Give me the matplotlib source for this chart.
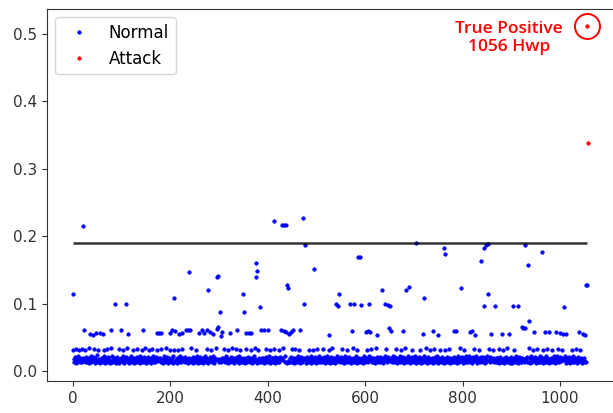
import matplotlib
matplotlib.use("Agg")
import matplotlib.pyplot as plt
import numpy as np

# reconstruction error per Hwp index, dense low band (thousandths)
band_milli = [
    15, 32, 18, 13, 21, 16, 33, 12, 19, 14, 17, 22, 31, 15, 13, 20, 16, 18, 33, 14, 12, 19, 23, 15, 17, 32, 13, 21, 16, 18,
    14, 20, 17, 12, 34, 19, 15, 22, 13, 18, 16, 21, 14, 33, 17, 12, 20, 15, 19, 24, 13, 16, 32, 18, 14, 21, 12, 17, 15, 20,
    19, 13, 16, 31, 22, 15, 18, 12, 20, 14, 33, 17, 13, 21, 16, 19, 12, 15, 34, 18, 14, 22, 16, 13, 20, 17, 32, 15, 12, 19,
    16, 21, 14, 18, 12, 33, 17, 15, 20, 13, 19, 16, 22, 14, 31, 18, 12, 17, 15, 21, 13, 34, 16, 19, 14, 20, 12, 18, 15, 17,
    22, 15, 13, 32, 19, 16, 12, 20, 17, 14, 18, 21, 33, 15, 13, 19, 16, 22, 12, 17, 14, 31, 20, 15, 18, 13, 16, 21, 34, 14,
    17, 12, 19, 15, 21, 13, 18, 32, 16, 14, 20, 12, 17, 33, 15, 22, 13, 19, 16, 14, 18, 21, 12, 31, 17, 15, 20, 13, 19, 16,
    13, 33, 20, 16, 14, 18, 12, 22, 15, 19, 17, 34, 13, 21, 16, 12, 18, 15, 20, 14, 32, 17, 13, 19, 16, 22, 12, 18, 31, 15,
    20, 14, 17, 12, 19, 16, 31, 15, 21, 13, 18, 22, 14, 17, 33, 12, 20, 15, 19, 16, 13, 21, 17, 32, 14, 18, 12, 16, 20, 15,
    16, 19, 13, 34, 18, 15, 21, 12, 17, 14, 20, 16, 32, 13, 19, 22, 15, 12, 18, 17, 33, 14, 21, 16, 13, 19, 15, 20, 12, 18,
    14, 22, 16, 19, 13, 17, 33, 12, 20, 15, 18, 14, 21, 16, 31, 19, 13, 17, 22, 15, 12, 20, 16, 34, 18, 14, 19, 13, 17, 21,
    18, 13, 32, 16, 21, 14, 19, 12, 17, 20, 15, 33, 13, 18, 16, 22, 14, 19, 12, 31, 17, 15, 20, 13, 18, 21, 16, 34, 14, 19,
    12, 17, 20, 15, 33, 18, 14, 21, 16, 13, 19, 22, 12, 17, 32, 15, 20, 14, 18, 16, 13, 21, 19, 15, 12, 33, 17, 20, 14, 16,
    21, 15, 18, 13, 19, 31, 16, 12, 20, 17, 14, 22, 16, 34, 18, 13, 19, 15, 21, 12, 17, 32, 14, 20, 16, 18, 13, 22, 15, 19,
    15, 20, 12, 18, 16, 14, 33, 21, 17, 13, 19, 15, 22, 16, 12, 31, 18, 14, 20, 17, 13, 19, 16, 33, 21, 15, 12, 18, 14, 20,
    19, 14, 17, 32, 13, 21, 16, 18, 12, 20, 15, 34, 17, 14, 19, 13, 22, 16, 18, 12, 31, 20, 15, 17, 14, 19, 13, 21, 16, 33,
    13, 18, 21, 15, 19, 12, 17, 33, 14, 20, 16, 13, 22, 18, 15, 32, 19, 12, 17, 21, 14, 16, 20, 13, 34, 18, 15, 19, 12, 17,
    17, 21, 14, 19, 13, 32, 18, 15, 22, 12, 20, 16, 14, 31, 17, 19, 13, 21, 15, 18, 12, 33, 16, 20, 14, 17, 22, 13, 19, 15,
    20, 16, 13, 18, 33, 15, 21, 12, 17, 19, 14, 22, 16, 13, 20, 32, 18, 15, 12, 21, 17, 14, 19, 34, 16, 13, 20, 18, 15, 12,
    14, 19, 22, 16, 12, 18, 31, 15, 20, 13, 17, 21, 14, 33, 19, 16, 12, 18, 22, 15, 13, 20, 17, 32, 14, 19, 16, 21, 12, 18,
    18, 12, 16, 21, 15, 34, 19, 13, 17, 20, 14, 16, 22, 12, 31, 18, 15, 19, 13, 21, 17, 33, 14, 20, 16, 12, 18, 15, 22, 13,
    16, 20, 14, 17, 32, 13, 19, 22, 15, 18, 12, 21, 16, 33, 14, 19, 17, 13, 20, 15, 18, 12, 34, 16, 21, 14, 19, 13, 17, 20,
    21, 13, 18, 15, 19, 31, 16, 12, 20, 17, 14, 22, 18, 33, 15, 13, 19, 16, 21, 12, 17, 15, 32, 20, 14, 18, 13, 22, 16, 19,
    13, 17, 21, 14, 33, 18, 12, 19, 16, 20, 15, 22, 13, 17, 32, 19, 14, 21, 16, 12, 18, 34, 15, 20, 13, 17, 19, 14, 22, 16,
    19, 15, 12, 20, 17, 13, 31, 21, 16, 18, 14, 19, 22, 15, 12, 33, 17, 20, 13, 18, 16, 21, 14, 32, 19, 12, 17, 15, 20, 13,
    17, 22, 15, 18, 13, 34, 20, 16, 12, 19, 21, 14, 17, 32, 15, 18, 13, 20, 16, 12, 19, 33, 14, 21, 17, 15, 18, 13, 22, 16,
    12, 18, 20, 15, 32, 17, 13, 21, 19, 14, 16, 22, 12, 31, 18, 15, 20, 13, 17, 21, 14, 19, 16, 33, 12, 20, 18, 15, 13, 17,
    20, 14, 17, 21, 13, 19, 33, 16, 12, 18, 22, 15, 19, 14, 34, 17, 13, 20, 16, 21, 12, 18, 32, 15, 19, 14, 17, 22, 13, 16,
    15, 19, 13, 18, 22, 16, 31, 14, 20, 12, 17, 21, 15, 33, 19, 13, 16, 18, 22, 14, 12, 20, 17, 32, 15, 19, 13, 21, 16, 18,
    18, 13, 21, 16, 14, 32, 19, 12, 17, 20, 15, 22, 13, 18, 33, 16, 14, 21, 19, 12, 17, 15, 20, 31, 13, 18, 22, 16, 14, 19,
    14, 20, 16, 19, 12, 33, 15, 21, 17, 13, 18, 22, 14, 16, 32, 20, 12, 19, 15, 17, 21, 13, 34, 18, 16, 14, 20, 12, 19, 15,
    21, 16, 12, 18, 15, 31, 20, 14, 17, 22, 13, 19, 16, 33, 12, 18, 21, 15, 17, 14, 20, 13, 32, 19, 16, 22, 14, 18, 12, 17,
    16, 19, 14, 21, 13, 17, 34, 15, 20, 12, 18, 22, 16, 14, 31, 19, 13, 17, 21, 15, 12, 20, 18, 33, 14, 16, 19, 13, 22, 17,
    13, 21, 18, 15, 19, 32, 12, 17, 20, 14, 16, 22, 13, 19, 33, 15, 18, 12, 21, 17, 14, 20, 16, 31, 13, 19, 15, 22, 18, 12,
    19, 15, 17, 22, 14, 33, 20, 13, 16, 18, 12, 21, 15, 19, 32, 17, 14, 20, 13, 16, 22, 18, 12, 34, 15, 19, 17, 13, 21, 14,
    17, 12, 20, 16, 19, 31, 14, 22, 13, 18, 15, 20, 17, 33, 12, 16, 19, 14, 21, 18, 13, 17, 32, 15, 20, 12, 18, 16, 14, 19,
    15, 18, 13, 17, 14, 16, 19,
]

# points that stand out of the band (index, value)
spike_x = [0, 20, 86, 110, 207, 239, 278, 295, 297, 302, 349, 351, 375, 376, 378, 385,
           412, 430, 434, 437, 440, 441, 473, 474, 476, 496, 541, 544, 546, 568, 578,
           585, 589, 591, 608, 635, 640, 647, 652, 684, 691, 705, 720, 761, 765, 796,
           838, 844, 845, 849, 852, 853, 866, 903, 913, 929, 935, 963, 1008, 1053, 1055]
spike_y = [0.115, 0.215, 0.100, 0.100, 0.108, 0.147, 0.121, 0.139, 0.141, 0.088, 0.115, 0.088,
           0.160, 0.139, 0.149, 0.095, 0.222, 0.217, 0.217, 0.217, 0.128, 0.124, 0.227, 0.100,
           0.187, 0.152, 0.100, 0.097, 0.115, 0.100, 0.100, 0.170, 0.169, 0.098, 0.100, 0.121,
           0.100, 0.098, 0.096, 0.121, 0.125, 0.190, 0.108, 0.183, 0.174, 0.124, 0.164, 0.182,
           0.097, 0.187, 0.115, 0.189, 0.097, 0.097, 0.097, 0.187, 0.157, 0.177, 0.095, 0.128, 0.128]

# the row of points around 0.05-0.07
mid_x = [22, 35, 42, 48, 55, 62, 79, 99, 113, 144, 172, 177, 182, 199, 204, 210, 217, 225,
         233, 237, 241, 260, 265, 270, 275, 281, 287, 296, 299, 304, 307, 322, 336, 356,
         361, 366, 387, 393, 400, 428, 433, 438, 443, 448, 452, 466, 526, 573, 602, 606,
         610, 625, 649, 654, 678, 718, 740, 749, 782, 786, 816, 820, 825, 859, 881, 896,
         922, 925, 928, 937, 946, 970, 978, 992, 1000, 1006, 1013, 1040, 1047, 1051]
mid_y = [0.061, 0.055, 0.053, 0.056, 0.056, 0.055, 0.061, 0.061, 0.055, 0.061, 0.056, 0.056,
         0.056, 0.057, 0.061, 0.059, 0.055, 0.057, 0.061, 0.061, 0.061, 0.056, 0.061, 0.057,
         0.061, 0.058, 0.055, 0.063, 0.066, 0.052, 0.058, 0.057, 0.061, 0.057, 0.057, 0.057,
         0.061, 0.061, 0.061, 0.061, 0.060, 0.058, 0.055, 0.058, 0.061, 0.061, 0.053, 0.060,
         0.058, 0.059, 0.058, 0.053, 0.064, 0.060, 0.060, 0.055, 0.060, 0.053, 0.060, 0.060,
         0.058, 0.060, 0.053, 0.055, 0.055, 0.055, 0.066, 0.064, 0.064, 0.074, 0.058, 0.058,
         0.058, 0.058, 0.057, 0.055, 0.055, 0.058, 0.055, 0.053]

attack_x = [1056, 1057]
attack_y = [0.512, 0.339]

threshold = 0.19

values = np.array(band_milli, dtype=float) / 1000.0
values[mid_x] = mid_y
values[spike_x] = spike_y
idx = np.arange(len(values))
normal_mask = ~np.isin(idx, attack_x)

fig = plt.figure(figsize=(6.13, 4.13), dpi=100)
ax = fig.add_axes([0.0767, 0.0775, 0.925, 0.9007])

ax.plot(idx[normal_mask], values[normal_mask], '.', color='blue', ms=5, mew=0.5, label='Normal')
ax.plot(attack_x, attack_y, '.', color='red', ms=5, mew=0.5, label='Attack')
ax.hlines(threshold, 0, attack_x[0], color='black', lw=1.8, alpha=0.8)

# highlight the detected attack
ax.plot(attack_x[0], attack_y[0], 'o', mfc='none', mec='red', ms=18, mew=1.4)
ax.text(896, 0.494, 'True Positive\n1056 Hwp', color='red', fontsize=12.5,
        fontweight='semibold', family='Open Sans', ha='center', va='center',
        linespacing=1.15)

ax.set_xlim(-53, 1111)
ax.set_ylim(-0.0145, 0.537)
ax.set_xticks([0, 200, 400, 600, 800, 1000])
ax.set_yticks([0.0, 0.1, 0.2, 0.3, 0.4, 0.5])
ax.tick_params(labelsize=11, colors='#333333')
for s in ax.spines.values():
    s.set_color('#333333')
ax.spines['right'].set_visible(False)

ax.legend(loc='upper left', fontsize=12, labelspacing=0.45)
fig.savefig('out.png', dpi=100)
